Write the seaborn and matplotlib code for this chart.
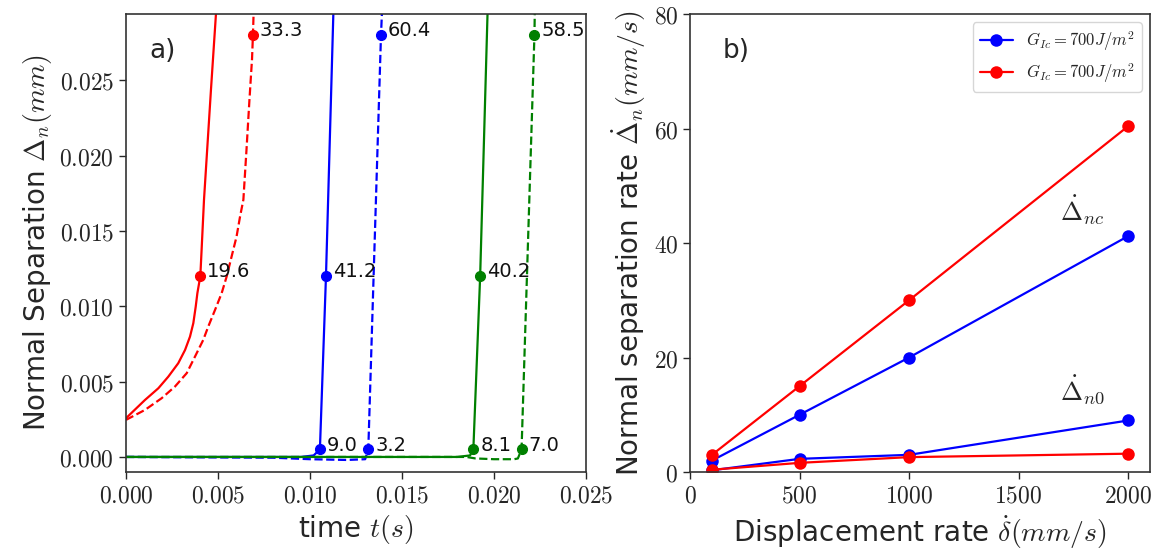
import matplotlib
matplotlib.use("Agg")
import matplotlib.pyplot as plt
import seaborn as sns
import pandas as pd
from matplotlib.ticker import FuncFormatter

# ---------------- data: panel a) ----------------
t_red_solid = [0.0, 0.00103, 0.00176, 0.0023, 0.00284, 0.00321, 0.00348, 0.00366, 0.00379,
               0.00388, 0.00404, 0.00411, 0.00424, 0.00462, 0.00489, 0.0050]
d_red_solid = [0.00257, 0.00378, 0.00456, 0.00533, 0.00622, 0.0071, 0.00799, 0.00888, 0.00998,
               0.01087, 0.0120, 0.01375, 0.01707, 0.0244, 0.0294, 0.0320]
t_red_dash = [0.0, 0.00103, 0.00194, 0.00266, 0.0033, 0.00375, 0.0042, 0.00447, 0.00484, 0.0052,
              0.00547, 0.00574, 0.00601, 0.0062, 0.00638, 0.00655, 0.00671, 0.00685, 0.0069, 0.0070]
d_red_dash = [0.00246, 0.00312, 0.0039, 0.00467, 0.00556, 0.00666, 0.00777, 0.00865, 0.00976, 0.01087,
              0.01197, 0.0133, 0.01463, 0.01596, 0.01707, 0.0204, 0.0237, 0.0264, 0.0280, 0.0320]
t_blue_solid = [0.0, 0.0095, 0.0102, 0.01054, 0.01087, 0.01127, 0.0114]
d_blue_solid = [0.0, 0.0, 0.0001, 0.0005, 0.0120, 0.0294, 0.0320]
t_blue_dash = [0.0, 0.0080, 0.0100, 0.0120, 0.0130, 0.01317, 0.01386, 0.0140]
d_blue_dash = [0.0, -0.00005, -0.00015, -0.0002, -0.00015, 0.0005, 0.0280, 0.0320]
t_green_solid = [0.0, 0.0180, 0.0187, 0.01888, 0.01925, 0.01965, 0.0198]
d_green_solid = [0.0, 0.0, 0.0001, 0.0005, 0.0120, 0.0294, 0.0320]
t_green_dash = [0.0, 0.0185, 0.0190, 0.0200, 0.0211, 0.0213, 0.0215, 0.0222, 0.02225]
d_green_dash = [0.0, 0.0, -0.0001, -0.00015, -0.00015, -0.0001, 0.0005, 0.0280, 0.0320]

mark_t = [0.00404, 0.0069, 0.01054, 0.01087, 0.01317, 0.01386, 0.01888, 0.01925, 0.0215, 0.0222]
mark_d = [0.012, 0.028, 0.0005, 0.012, 0.0005, 0.028, 0.0005, 0.012, 0.0005, 0.028]
mark_lbl = ["19.6", "33.3", "9.0", "41.2", "3.2", "60.4", "8.1", "40.2", "7.0", "58.5"]
mark_col = ["red", "red", "blue", "blue", "blue", "blue", "green", "green", "green", "green"]

# ---------------- data: panel b) ----------------
rate = [100, 500, 1000, 2000]
blue_nc = [2.0, 10.0, 20.0, 41.2]
red_nc = [3.0, 15.0, 30.0, 60.4]
blue_n0 = [0.3, 2.3, 3.0, 9.0]
red_n0 = [0.4, 1.6, 2.6, 3.2]
legend_labels = [r"$G_{Ic} = 700 J/m^2$", r"$G_{Ic} = 700 J/m^2$"]

# ---------------- style ----------------
sns.set_theme(style="ticks")
plt.rcParams["font.family"] = ["DejaVu Sans"]
plt.rcParams["mathtext.fontset"] = "cm"
plt.rcParams["axes.edgecolor"] = "#333333"
plt.rcParams["axes.linewidth"] = 1.2

fig = plt.figure(figsize=(11.58, 5.58), dpi=100)
ax1 = fig.add_axes([0.1088, 0.1541, 0.3972, 0.8208])
ax2 = fig.add_axes([0.5959, 0.1541, 0.3972, 0.8208])

lw = 1.6
def line(ax, t, d, color, ls):
    df = pd.DataFrame({"x": t, "y": d})
    sns.lineplot(data=df, x="x", y="y", ax=ax, color=color, lw=lw,
                 linestyle=ls, sort=False, estimator=None)

line(ax1, t_red_solid, d_red_solid, "red", "-")
line(ax1, t_red_dash, d_red_dash, "red", "--")
line(ax1, t_blue_solid, d_blue_solid, "blue", "-")
line(ax1, t_blue_dash, d_blue_dash, "blue", "--")
line(ax1, t_green_solid, d_green_solid, "green", "-")
line(ax1, t_green_dash, d_green_dash, "green", "--")

for t, d, s, c in zip(mark_t, mark_d, mark_lbl, mark_col):
    ax1.plot(t, d, "o", color=c, ms=7, zorder=5)
    ax1.annotate(s, (t, d), xytext=(5, 3), textcoords="offset points",
                 ha="left", va="center", fontsize=14, color="#111111")

ax1.set_xlim(0, 0.025)
ax1.set_ylim(-0.001, 0.0294)
ax1.set_xticks([0.0, 0.005, 0.010, 0.015, 0.020, 0.025])
ax1.set_yticks([0.0, 0.005, 0.010, 0.015, 0.020, 0.025])
fmt3 = FuncFormatter(lambda v, p: r"$%.3f$" % v)
ax1.xaxis.set_major_formatter(fmt3)
ax1.yaxis.set_major_formatter(fmt3)
ax1.set_xlabel(r"time $t(s)$", fontsize=20)
ax1.set_ylabel(r"Normal Separation $\Delta_n(mm)$", fontsize=20)
ax1.text(0.05, 0.92, "a)", transform=ax1.transAxes, fontsize=19, va="center")

# ---------------- panel b ----------------
def pline(ax, x, y, color, label=None):
    df = pd.DataFrame({"x": x, "y": y})
    sns.lineplot(data=df, x="x", y="y", ax=ax, color=color, lw=lw, marker="o",
                 markersize=9, markeredgewidth=0, sort=False, estimator=None,
                 label=label)

pline(ax2, rate, blue_nc, "blue", legend_labels[0])
pline(ax2, rate, red_nc, "red", legend_labels[1])
pline(ax2, rate, blue_n0, "blue")
pline(ax2, rate, red_n0, "red")

ax2.set_xlim(0, 2100)
ax2.set_ylim(0, 80)
ax2.set_xticks([0, 500, 1000, 1500, 2000])
ax2.set_yticks([0, 20, 40, 60, 80])
ax2.xaxis.set_major_formatter(FuncFormatter(lambda v, p: r"$%d$" % v))
ax2.yaxis.set_major_formatter(FuncFormatter(lambda v, p: r"$%d$" % v))
ax2.set_xlabel(r"Displacement rate $\dot{\delta}(mm/s)$", fontsize=20)
ax2.set_ylabel(r"Normal separation rate $\dot{\Delta}_n(mm/s)$", fontsize=20)
ax2.text(0.07, 0.92, "b)", transform=ax2.transAxes, fontsize=19, va="center")
ax2.text(1690, 44, r"$\dot{\Delta}_{nc}$", fontsize=19)
ax2.text(1690, 12.5, r"$\dot{\Delta}_{n0}$", fontsize=19)
ax2.legend(loc="upper right", fontsize=12, frameon=True)

for ax in (ax1, ax2):
    ax.tick_params(labelsize=17, length=5, width=1)
    for sp in ax.spines.values():
        sp.set_visible(True)

fig.savefig("out.png", dpi=100)
